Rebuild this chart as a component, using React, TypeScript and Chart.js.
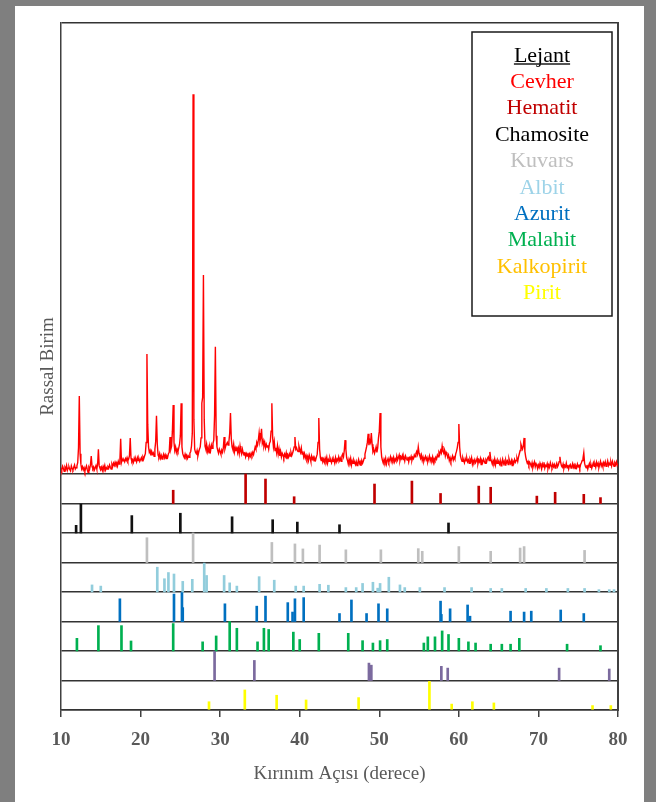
import React, { useEffect, useRef } from 'react';
import { Chart, registerables } from 'chart.js';

Chart.register(...registerables);

// ---------- DATA ----------
// Ore (Cevher) XRD pattern: intensity (counts) from 2θ = 10.0° to 80.0°, step 0.1°
const THETA_START = 10;
const THETA_STEP = 0.1;
const cevherIntensity: number[] = [
  14, 9, 17, 12, 6, 15, 11, 19, 8, 13,
  16, 10, 7, 18, 12, 9, 15, 20, 11, 14,
  18, 25, 58, 173, 45, 22, 11, 16, 9, 14,
  6, 13, 18, 10, 4, 15, 11, 20, 40, 17,
  12, 16, 9, 14, 19, 11, 21, 55, 18, 13,
  10, 15, 8, 17, 12, 19, 9, 14, 11, 16,
  13, 20, 15, 11, 22, 17, 24, 19, 26, 21,
  25, 18, 28, 22, 30, 78, 26, 33, 29, 31,
  27, 34, 30, 36, 29, 33, 40, 80, 35, 28,
  31, 26, 35, 29, 33, 27, 36, 30, 34, 28,
  32, 36, 29, 38, 34, 40, 45, 70, 266, 110,
  60, 48, 52, 41, 50, 44, 47, 39, 55, 72,
  129, 66, 42, 38, 45, 35, 41, 33, 39, 44,
  36, 42, 34, 40, 37, 45, 48, 82, 55, 62,
  95, 153, 70, 52, 60, 48, 55, 50, 58, 66,
  85, 157, 60, 45, 40, 36, 44, 38, 42, 35,
  40, 37, 46, 50, 62, 90, 842, 120, 55, 48,
  45, 52, 40, 48, 55, 60, 80, 157, 170, 441,
  120, 62, 55, 66, 50, 58, 47, 60, 52, 64,
  57, 68, 75, 130, 282, 85, 60, 52, 46, 55,
  50, 44, 53, 48, 58, 82, 55, 62, 66, 70,
  64, 72, 90, 135, 78, 60, 54, 66, 49, 58,
  52, 61, 48, 57, 45, 62, 50, 44, 55, 47,
  42, 49, 38, 45, 40, 47, 36, 44, 39, 46,
  41, 48, 43, 52, 60, 55, 70, 64, 75, 91,
  72, 80, 100, 68, 74, 62, 70, 58, 66, 60,
  64, 55, 68, 72, 95, 157, 80, 60, 72, 52,
  58, 47, 62, 44, 55, 40, 50, 38, 46, 42,
  36, 44, 39, 47, 33, 42, 37, 45, 40, 48,
  41, 46, 52, 60, 82, 55, 58, 52, 50, 62,
  54, 48, 58, 44, 50, 38, 45, 35, 41, 33,
  39, 30, 42, 36, 28, 40, 33, 37, 29, 35,
  31, 38, 44, 70, 124, 55, 36, 30, 38, 27,
  33, 26, 35, 29, 37, 24, 32, 28, 36, 30,
  25, 34, 28, 31, 24, 36, 27, 33, 29, 38,
  30, 35, 28, 40, 44, 38, 52, 75, 55, 36,
  30, 22, 33, 27, 35, 20, 29, 24, 31, 26,
  21, 28, 19, 25, 32, 23, 27, 18, 30, 24,
  29, 35, 44, 52, 60, 70, 89, 64, 75, 70,
  91, 66, 50, 55, 46, 52, 60, 48, 58, 80,
  95, 135, 60, 38, 30, 24, 33, 27, 35, 22,
  29, 34, 26, 31, 38, 28, 35, 30, 37, 27,
  33, 29, 40, 31, 36, 42, 30, 38, 34, 41,
  32, 37, 29, 40, 35, 31, 38, 27, 36, 33,
  39, 30, 37, 34, 42, 38, 45, 50, 44, 60,
  46, 40, 35, 42, 30, 37, 28, 34, 39, 31,
  36, 27, 33, 40, 29, 35, 31, 38, 26, 34,
  30, 37, 33, 42, 38, 48, 44, 52, 47, 62,
  50, 46, 53, 40, 48, 44, 37, 42, 30, 36,
  28, 34, 40, 31, 37, 33, 44, 50, 58, 70,
  111, 60, 40, 33, 28, 36, 30, 25, 34, 29,
  35, 27, 31, 24, 33, 28, 36, 22, 30, 26,
  32, 25, 29, 35, 23, 31, 27, 34, 21, 30,
  26, 33, 28, 24, 31, 27, 35, 38, 30, 49,
  34, 28, 22, 30, 25, 33, 20, 29, 24, 31,
  27, 22, 30, 18, 26, 33, 23, 28, 20, 31,
  25, 29, 21, 34, 27, 23, 30, 19, 28, 24,
  32, 26, 30, 35, 28, 38, 45, 52, 66, 60,
  55, 62, 80, 50, 38, 30, 24, 28, 20, 26,
  22, 17, 25, 14, 21, 27, 16, 23, 19, 12,
  20, 15, 24, 18, 11, 22, 16, 26, 13, 19,
  17, 23, 12, 20, 15, 25, 18, 14, 22, 16,
  21, 13, 19, 24, 16, 20, 27, 38, 25, 18,
  15, 22, 12, 19, 16, 24, 14, 20, 11, 18,
  21, 13, 17, 23, 15, 20, 12, 18, 14, 22,
  16, 19, 13, 21, 25, 30, 35, 47, 24, 17,
  14, 20, 11, 18, 23, 15, 21, 13, 19, 25,
  17, 22, 15, 26, 19, 24, 14, 21, 28, 18,
  23, 16, 25, 20, 27, 17, 22, 29, 19, 24,
  20, 26, 18, 28, 22, 17, 25, 21, 27, 19,
  23,
];
const MAIN_MAX = 1000; // top of the pattern panel (counts)

// Reference patterns: [2θ (°), relative intensity (%)]
const hematit: [number, number][] = [
  [24.1, 45], [33.2, 100], [35.7, 83], [39.3, 23], [49.4, 66], [54.1, 76], [57.7, 34],
  [62.5, 59], [64.0, 55], [69.8, 25], [72.1, 38], [75.7, 31], [77.8, 20],
];
const chamosite: [number, number][] = [
  [11.9, 26], [12.5, 98], [18.9, 59], [25.0, 67], [31.5, 55], [36.6, 45], [39.7, 37],
  [45.0, 28], [58.7, 34],
];
const kuvars: [number, number][] = [
  [20.8, 84], [26.6, 100], [36.5, 68], [39.4, 63], [40.4, 46], [42.5, 59], [45.8, 43],
  [50.2, 43], [54.9, 47], [55.4, 38], [60.0, 54], [64.0, 38], [67.7, 49], [68.2, 54], [75.8, 41],
];
const albit: [number, number][] = [
  [13.9, 24], [15.0, 20], [22.1, 84], [23.0, 45], [23.5, 66], [24.2, 61], [25.3, 36],
  [26.5, 43], [28.0, 98], [28.3, 56], [30.5, 56], [31.2, 31], [32.1, 20], [34.9, 52],
  [36.8, 40], [39.5, 20], [40.5, 20], [42.5, 26], [43.6, 23], [45.8, 15], [47.1, 15],
  [47.9, 29], [49.2, 33], [49.8, 13], [50.1, 29], [51.2, 50], [52.6, 24], [53.2, 15],
  [55.1, 15], [58.2, 15], [61.6, 15], [64.0, 12], [65.4, 12], [68.4, 12], [71.0, 12],
  [73.7, 12], [75.8, 12], [77.6, 8], [78.9, 8], [79.5, 8],
];
const azurit: [number, number][] = [
  [17.4, 77], [24.2, 93], [25.2, 100], [25.3, 47], [30.6, 60], [34.6, 52], [35.7, 86],
  [38.5, 64], [39.1, 32], [39.4, 77], [40.5, 81], [45.0, 27], [46.5, 73], [48.4, 27],
  [49.9, 60], [51.0, 43], [57.7, 69], [57.8, 24], [58.9, 43], [61.1, 56], [61.4, 18],
  [66.5, 35], [68.2, 32], [69.1, 35], [72.8, 39], [75.7, 27],
];
const malahit: [number, number][] = [
  [12.0, 43], [14.7, 86], [17.6, 86], [18.8, 34], [24.1, 93], [27.8, 31], [29.5, 51],
  [31.2, 100], [32.1, 77], [34.7, 31], [35.5, 77], [36.1, 73], [39.2, 64], [40.0, 39],
  [42.4, 60], [46.1, 60], [47.9, 35], [49.2, 27], [50.1, 35], [51.0, 39], [55.6, 27],
  [56.1, 48], [57.0, 48], [57.9, 68], [58.7, 56], [60.0, 43], [61.2, 31], [62.1, 27],
  [64.0, 23], [65.4, 23], [66.5, 23], [67.6, 43], [73.6, 23], [77.8, 18],
];
const kalkopirit: [number, number][] = [
  [29.3, 100], [34.3, 68], [48.7, 59], [49.0, 52], [57.8, 48], [58.6, 42], [72.6, 42], [78.9, 39],
];
const pirit: [number, number][] = [
  [28.6, 28], [33.1, 68], [37.1, 50], [40.8, 34], [47.4, 42], [56.3, 97], [59.1, 20],
  [61.7, 28], [64.4, 24], [76.8, 15], [79.1, 15],
];

const phaseNames = ['Hematit', 'Chamosite', 'Kuvars', 'Albit', 'Azurit', 'Malahit', 'Kalkopirit', 'Pirit'];
const phasePeaks = [hematit, chamosite, kuvars, albit, azurit, malahit, kalkopirit, pirit];
const phaseStickColors = ['#c00000', '#111111', '#bfbfbf', '#92cddc', '#0070c0', '#00b050', '#7b6a9e', '#ffff00'];
const phaseLegendColors = ['#c00000', '#000000', '#bfbfbf', '#9dd3e8', '#0070c0', '#00b050', '#ffc000', '#ffff00'];
const oreName = 'Cevher';
const oreColor = '#ff0000';
const xTicks = [10, 20, 30, 40, 50, 60, 70, 80];

// ---------- LAYOUT (panel proportions) ----------
const STRIP_SPAN = MAIN_MAX * 29.5 / 451; // height of one reference strip in y units
const MAIN_BASE = STRIP_SPAN * phaseNames.length;
const Y_TOTAL = MAIN_BASE + MAIN_MAX;
const boundaries = [...phaseNames.map((_, i) => i * STRIP_SPAN), MAIN_BASE, Y_TOTAL];

const SERIF = '"Liberation Serif", "Times New Roman", Times, serif';
const AXIS_GRAY = '#595959';
const LINE_DARK = '#333333';

const boxLegend = {
  id: 'boxLegend',
  afterDraw(chart: any) {
    const { ctx, chartArea } = chart;
    const w = 140;
    const h = 284;
    const x0 = chartArea.right - 6 - w;
    const y0 = chartArea.top + 9;
    ctx.save();
    ctx.fillStyle = '#ffffff';
    ctx.fillRect(x0, y0, w, h);
    ctx.strokeStyle = '#1a1a1a';
    ctx.lineWidth = 1.5;
    ctx.strokeRect(x0, y0, w, h);
    ctx.font = '22px ' + SERIF;
    ctx.textAlign = 'center';
    ctx.textBaseline = 'alphabetic';
    const cx = x0 + w / 2;
    const first = y0 + 29.5;
    const step = 26.4;
    ctx.fillStyle = '#000000';
    ctx.fillText('Lejant', cx, first);
    const tw = ctx.measureText('Lejant').width;
    ctx.beginPath();
    ctx.lineWidth = 1.3;
    ctx.moveTo(cx - tw / 2, first + 2.5);
    ctx.lineTo(cx + tw / 2, first + 2.5);
    ctx.stroke();
    chart.data.datasets.forEach((ds: any, i: number) => {
      ctx.fillStyle = ds.legendColor;
      ctx.fillText(ds.label, cx, first + step * (i + 1));
    });
    ctx.restore();
  },
};

export default function App() {
  const ref = useRef<HTMLCanvasElement>(null);

  useEffect(() => {
    if (!ref.current) return;
    const datasets: any[] = [
      {
        type: 'line',
        label: oreName,
        legendColor: oreColor,
        data: cevherIntensity.map((v, i) => ({ x: THETA_START + i * THETA_STEP, y: MAIN_BASE + v })),
        borderColor: oreColor,
        borderWidth: 1.4,
        pointRadius: 0,
        tension: 0,
        fill: false,
        order: 0,
      },
      ...phaseNames.map((name, i) => {
        const base = (phaseNames.length - 1 - i) * STRIP_SPAN;
        return {
          type: 'bar',
          label: name,
          legendColor: phaseLegendColors[i],
          data: phasePeaks[i].map(([pos, rel]) => ({ x: pos, y: [base, base + (rel / 100) * STRIP_SPAN] })),
          backgroundColor: phaseStickColors[i],
          borderWidth: 0,
          barThickness: 2,
          grouped: false,
          order: 1,
        };
      }),
    ];

    const chart = new Chart(ref.current, {
      type: 'line',
      data: { datasets },
      options: {
        responsive: false,
        animation: false,
        events: [],
        layout: { padding: { top: 23, right: 0, bottom: 0, left: 0 } },
        plugins: {
          legend: { display: false },
          tooltip: { enabled: false },
        },
        scales: {
          x: {
            type: 'linear',
            position: 'bottom',
            min: 10,
            max: 80,
            offset: false,
            afterBuildTicks: (s: any) => {
              s.ticks = xTicks.map((v) => ({ value: v }));
            },
            afterFit: (s: any) => {
              s.height = 92;
            },
            ticks: {
              color: AXIS_GRAY,
              font: { family: SERIF, size: 19, weight: 'bold' },
              padding: 11.6,
              maxRotation: 0,
              autoSkip: false,
            },
            grid: {
              offset: false,
              drawOnChartArea: false,
              drawTicks: true,
              tickLength: 7,
              color: '#404040',
              lineWidth: 1.5,
            },
            border: { display: true, color: LINE_DARK, width: 1.5 },
            title: {
              display: true,
              text: 'Kırınım Açısı (derece)',
              color: AXIS_GRAY,
              font: { family: SERIF, size: 19 },
              padding: { top: 0, bottom: 16.6 },
            },
          },
          y: {
            type: 'linear',
            position: 'left',
            min: 0,
            max: Y_TOTAL,
            afterBuildTicks: (s: any) => {
              s.ticks = boundaries.map((v) => ({ value: v }));
            },
            afterFit: (s: any) => {
              s.width = 61;
            },
            ticks: { display: false },
            grid: {
              drawOnChartArea: true,
              drawTicks: false,
              color: LINE_DARK,
              lineWidth: 1.5,
            },
            border: { display: true, color: '#404040', width: 1.5 },
            title: {
              display: true,
              text: 'Rassal Birim',
              color: AXIS_GRAY,
              font: { family: SERIF, size: 19 },
              padding: { top: 36.6, bottom: 0 },
            },
          },
          yRight: {
            type: 'linear',
            position: 'right',
            min: 0,
            max: 1,
            afterFit: (s: any) => {
              s.width = 38;
            },
            ticks: { display: false },
            grid: { display: false, drawOnChartArea: false, drawTicks: false },
            border: { display: true, color: '#404040', width: 2 },
          },
        },
      } as any,
      plugins: [boxLegend],
    } as any);

    return () => chart.destroy();
  }, []);

  return (
    <div
      style={{
        position: 'fixed',
        left: 0,
        top: 0,
        width: 656,
        height: 802,
        background: '#7f7f7f',
        overflow: 'hidden',
      }}
    >
      <div style={{ position: 'absolute', left: 15, top: 6, width: 629, height: 796, background: '#ffffff' }} />
      <canvas
        ref={ref}
        width={656}
        height={802}
        style={{ position: 'absolute', left: 0, top: 0, width: 656, height: 802 }}
      />
    </div>
  );
}
